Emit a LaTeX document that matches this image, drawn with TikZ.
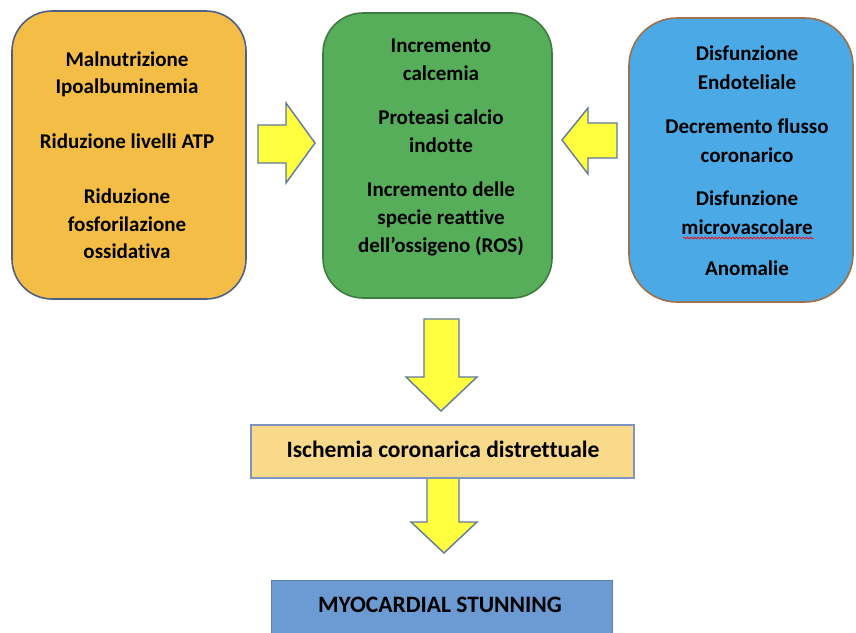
\documentclass[tikz,border=0pt]{standalone}
\usepackage{fontspec}
\setmainfont[Ligatures={NoCommon}]{Carlito}
\usetikzlibrary{decorations.pathmorphing}
\definecolor{cOrange}{HTML}{F4BD45}
\definecolor{cOrangeB}{HTML}{4F5F85}
\definecolor{cGreen}{HTML}{56AE5A}
\definecolor{cGreenB}{HTML}{3F7A3F}
\definecolor{cBlue}{HTML}{4BA9E6}
\definecolor{cBlueB}{HTML}{A0704A}
\definecolor{cIsch}{HTML}{F9D98A}
\definecolor{cIschB}{HTML}{7F93C0}
\definecolor{cMyo}{HTML}{6C9AD2}
\definecolor{cMyoB}{HTML}{5A7FB8}
\definecolor{cArrow}{HTML}{FFFF40}
\definecolor{cArrowB}{HTML}{5F7A9A}
\tikzset{
  roundbox/.style={draw, line width=1.6pt, rounded corners=40pt, inner sep=0pt},
  flatbox/.style={draw, line width=1.4pt, inner sep=0pt},
  txt/.style={font=\fontsize{21}{27.5}\selectfont\bfseries, align=center, inner sep=0pt},
  bigtxt/.style={font=\fontsize{23.5}{28}\selectfont\bfseries, align=center, inner sep=0pt},
  blockarrow/.style={fill=cArrow, draw=cArrowB, line width=1.4pt, line join=miter}
}
\begin{document}
\begin{tikzpicture}[x=1pt,y=-1pt]
\useasboundingbox (0,0) rectangle (856,632);
% boxes
\draw[roundbox, fill=cOrange, draw=cOrangeB] (12,11) rectangle (246,299);
\node[txt] (lefttext) at (127,155) {Malnutrizione\\Ipoalbuminemia\\[27.5pt]Riduzione livelli ATP\\[27.5pt]Riduzione\\fosforilazione\\ossidativa};
\draw[roundbox, fill=cGreen, draw=cGreenB] (323,13) rectangle (552,298);
\node[txt, font=\fontsize{21}{28}\selectfont\bfseries] (midtext) at (441,147.5) {Incremento\\calcemia\\[16pt]Proteasi calcio\\indotte\\[16pt]Incremento delle\\specie reattive\\dell’ossigeno (ROS)};
\draw[roundbox, rounded corners=48pt, fill=cBlue, draw=cBlueB] (629,18) rectangle (853,302);
\node[txt, font=\fontsize{21}{28.5}\selectfont\bfseries] (righttext) at (747,161) {Disfunzione\\Endoteliale\\[16pt]Decremento flusso\\coronarico\\[15pt]Disfunzione\\microvascolare\\[13pt]Anomalie};
\draw[red, line width=0.7pt, decorate, decoration={snake, amplitude=0.9pt, segment length=3.5pt}] (683,238) -- (814,238);
% block arrows
\draw[blockarrow] (258,125) -- (286,125) -- (286,103) -- (315,143) -- (286,183) -- (286,163) -- (258,163) -- cycle;
\draw[blockarrow] (617,123) -- (588,123) -- (588,108) -- (562,140) -- (588,174) -- (588,158) -- (617,158) -- cycle;
\draw[blockarrow] (424,319) -- (459,319) -- (459,377) -- (477,377) -- (441,411) -- (406,377) -- (424,377) -- cycle;
\draw[blockarrow] (427,478) -- (459,478) -- (459,522) -- (477,522) -- (444,553) -- (411,522) -- (427,522) -- cycle;
% lower boxes
\node[flatbox, fill=cIsch, draw=cIschB, minimum width=383pt, minimum height=53pt] (isch) at (442.5,451.5) {};
\node[bigtxt] at (443,449) {Ischemia coronarica distrettuale};
\node[flatbox, fill=cMyo, draw=cMyoB, minimum width=341pt, minimum height=70pt, anchor=north west] (myo) at (271,580) {};
\node[bigtxt] at (440,605) {MYOCARDIAL STUNNING};
\end{tikzpicture}
\end{document}
